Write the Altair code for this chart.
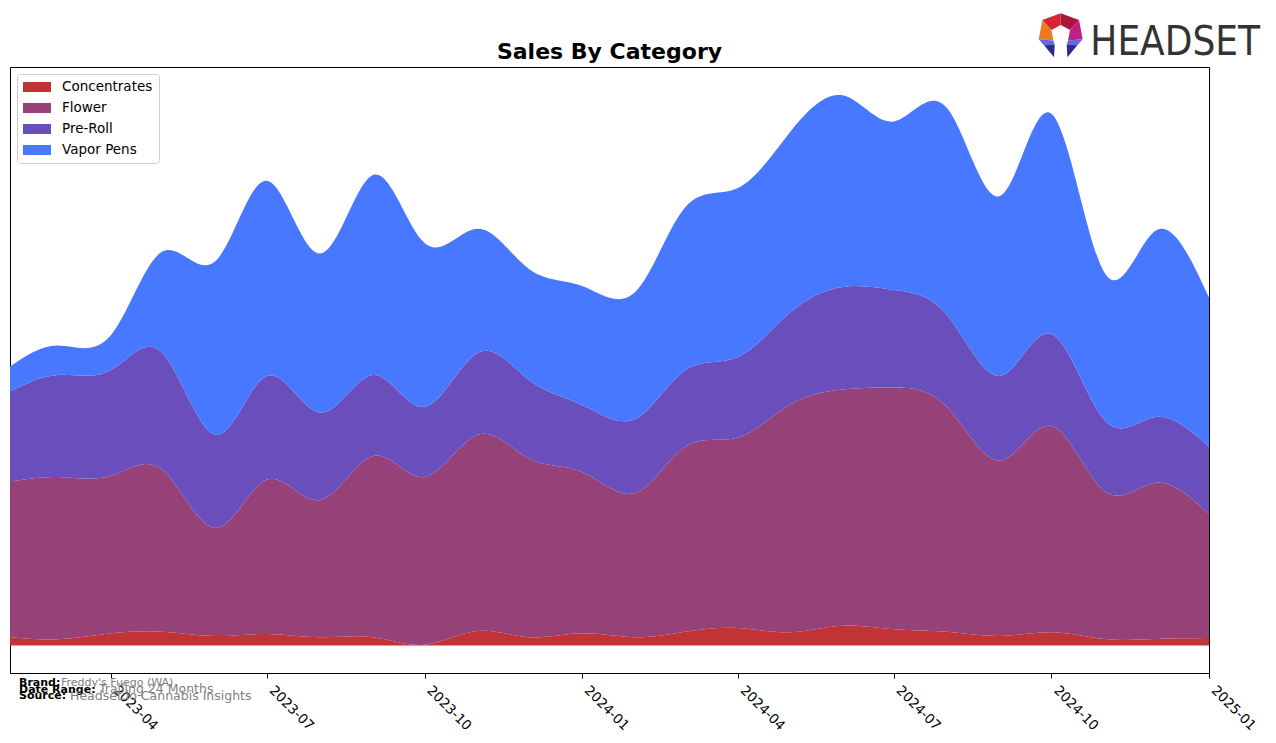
import altair as alt
import pandas as pd

# ---- data (arbitrary units, no y axis shown) ----
months = ["2023-02-01", "2023-03-01", "2023-04-01", "2023-05-01", "2023-06-01", "2023-07-01",
          "2023-08-01", "2023-09-01", "2023-10-01", "2023-11-01", "2023-12-01", "2024-01-01",
          "2024-02-01", "2024-03-01", "2024-04-01", "2024-05-01", "2024-06-01", "2024-07-01",
          "2024-08-01", "2024-09-01", "2024-10-01", "2024-11-01", "2024-12-01", "2025-01-01"]
categories = ["Concentrates", "Flower", "Pre-Roll", "Vapor Pens"]
concentrates = [8.2, 6.2, 12.2, 13.8, 9.5, 11.5, 8.2, 8.2, 0.8, 14.5, 8.2, 12.2,
                8.2, 13.8, 17.5, 13.2, 19.8, 16.2, 13.8, 9.5, 13.2, 6.5, 6.5, 7.5]
flower = [155.8, 162.3, 157.5, 161.7, 108.0, 154.4, 137.3, 181.3, 167.7, 196.2, 178.8, 161.3,
          144.3, 184.7, 190.4, 227.3, 236.1, 241.7, 224.7, 175.4, 206.3, 148.0, 156.3, 124.0]
preroll = [90.0, 102.0, 105.8, 117.0, 93.2, 103.6, 87.4, 81.0, 70.2, 81.8, 78.5, 67.1,
           74.0, 76.6, 80.6, 92.0, 102.6, 97.6, 92.2, 84.6, 92.0, 71.0, 65.7, 67.0]
vapor_pens = [24.9, 29.5, 35.0, 101.4, 173.8, 195.2, 159.0, 200.0, 163.8, 124.3, 111.0, 118.9,
              127.0, 162.8, 169.0, 180.1, 191.7, 168.6, 206.8, 180.0, 220.3, 147.3, 186.4, 149.4]
tick_months = ["2023-04", "2023-07", "2023-10", "2024-01", "2024-04", "2024-07", "2024-10", "2025-01"]
colors = ["#C13335", "#964278", "#694EBC", "#4878FF"]

series = [concentrates, flower, preroll, vapor_pens]
rows = []
for ci, (cat, vals) in enumerate(zip(categories, series)):
    for m, v in zip(months, vals):
        rows.append({"month": m, "category": cat, "sales": v, "order": ci})
df = pd.DataFrame(rows)

W, H = 1199, 606
total_max = 551.0

def dt(s):
    y, mo = s.split("-")[:2]
    return alt.DateTime(year=int(y), month=int(mo), date=1, utc=True)

# legend patch: 28 x 10 px drawn with a small nominal symbol size (14) so rows stay tight
legend_symbol = "M-2,-0.714H2V0.714H-2Z"

area = alt.Chart(df).mark_area(interpolate="natural", opacity=1).encode(
    x=alt.X("month:T",
            scale=alt.Scale(type="utc", domain=[dt(months[0]), dt(months[-1])], nice=False),
            axis=alt.Axis(values=[dt(t) for t in tick_months],
                          labelExpr="utcFormat(datum.value, '%Y-%m')",
                          title=None, domain=False, grid=False, ticks=True, tickSize=5,
                          tickColor="black", tickWidth=1, labelAngle=45, labelAlign="left",
                          labelBaseline="top", labelPadding=5, labelOffset=9,
                          labelFontSize=13.5, labelColor="black", labelFont="DejaVu Sans",
                          labelOverlap=False, labelFlush=False)),
    y=alt.Y("sales:Q", stack="zero",
            scale=alt.Scale(domain=[-0.05 * total_max, 1.05 * total_max], nice=False, zero=False),
            axis=None),
    color=alt.Color("category:N",
                    scale=alt.Scale(domain=categories, range=colors),
                    legend=alt.Legend(title=None, orient="none", legendX=7, legendY=7,
                                      symbolType=legend_symbol, symbolSize=196,
                                      symbolStrokeWidth=0, symbolOpacity=1, symbolOffset=7,
                                      labelFontSize=13.5, labelFont="DejaVu Sans",
                                      labelColor="black", labelOffset=18, rowPadding=7,
                                      padding=6, strokeColor="#cccccc", fillColor="white",
                                      cornerRadius=3)),
    order=alt.Order("order:Q", sort="ascending"),
)

one = pd.DataFrame({"k": [0]})

def text_layer(txt, x, y, bold=False, color="black", size=11, align="left", font="DejaVu Sans"):
    return alt.Chart(one).mark_text(
        text=txt, align=align, baseline="alphabetic", fontSize=size,
        fontWeight="bold" if bold else "normal", color=color, font=font
    ).encode(x=alt.value(x), y=alt.value(y))

title = text_layer("Sales By Category", W / 2, -8.3, bold=True, size=22, align="center")

footer = [
    text_layer("Brand:", 9, 619, bold=True),
    text_layer("Freddy's Fuego (WA)", 51, 619, color="#808080"),
    text_layer("Date Range:", 9, 625.5, bold=True),
    text_layer("Trailing 24 Months", 89, 626, color="#808080", size=12.5),
    text_layer("Source:", 9, 632, bold=True),
    text_layer("Headset.io Cannabis Insights", 60, 633, color="#808080", size=12.5),
]

logo_text = text_layer("HEADSET", 1250, -12, size=40, color="#333333", align="right",
                       font="Liberation Sans Narrow, DejaVu Sans Condensed, sans-serif")

# logo icon pieces (polygons in a 160x156 design grid, centred at 80,76)
icon_parts = [
    ([(25, 30), (80, 10), (80, 45), (52, 60)], "#D42436"),
    ([(80, 10), (135, 30), (108, 60), (80, 45)], "#A8183C"),
    ([(25, 30), (52, 60), (58, 92), (14, 88)], "#F07A24"),
    ([(135, 30), (146, 88), (102, 92), (108, 60)], "#C01E88"),
    ([(14, 88), (58, 92), (62, 104), (30, 106)], "#6466E0"),
    ([(30, 106), (62, 104), (60, 142)], "#2C2C8C"),
    ([(146, 88), (102, 92), (98, 104), (130, 106)], "#6466E0"),
    ([(130, 106), (98, 104), (100, 142)], "#2C2C8C"),
]

def poly_path(pts):
    return "M" + " L".join(f"{(x - 80) / 66:.3f},{(y - 76) / 66:.3f}" for x, y in pts) + " Z"

icon = [
    alt.Chart(one).mark_point(shape=poly_path(p), filled=True, fill=c, opacity=1,
                              strokeWidth=0, size=1936)
    .encode(x=alt.value(1050.7), y=alt.value(-31.7))
    for p, c in icon_parts
]

chart = alt.layer(area, title, *footer, logo_text, *icon).properties(
    width=W, height=H,
    autosize=alt.AutoSizeParams(type="none"),
    padding={"left": 2, "top": 59, "right": 58, "bottom": 62},
).configure_view(stroke="black", strokeWidth=1)

chart.save("out.html", embed_options={"renderer": "svg", "actions": False})
